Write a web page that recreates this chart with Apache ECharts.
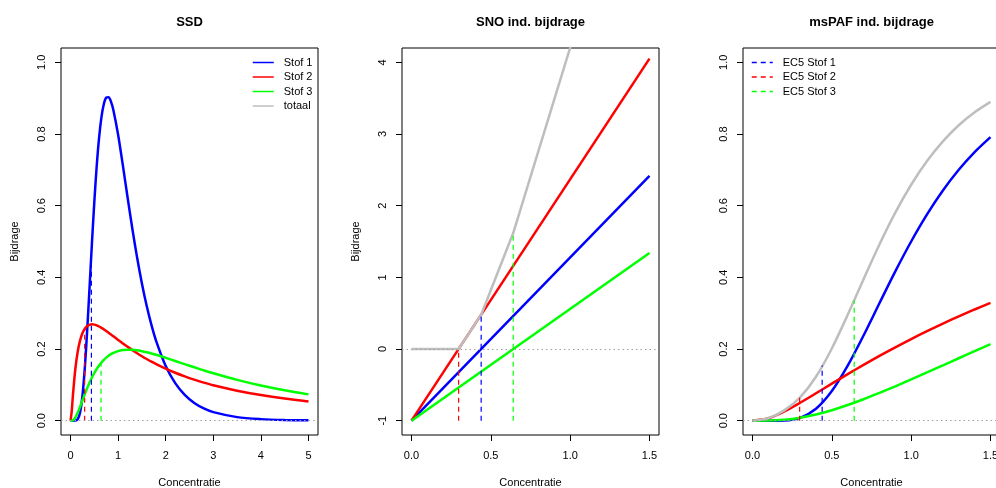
<!DOCTYPE html>
<html>
<head>
<meta charset="utf-8">
<script src="https://cdn.jsdelivr.net/npm/echarts@6/dist/echarts.min.js"></script>
<style>
  html, body { margin: 0; padding: 0; background: #fff; }
  #chart { width: 996px; height: 488px; }
</style>
</head>
<body>
<div id="chart"></div>
<script>
// SSD densities (panel 1)
const ssdX = [0, 0.025, 0.05, 0.1, 0.15, 0.2, 0.25, 0.3, 0.35, 0.4, 0.45, 0.5, 0.55, 0.6, 0.65, 0.7, 0.75, 0.8, 0.85, 0.9,
  1.0, 1.1, 1.2, 1.3, 1.4, 1.5, 1.6, 1.7, 1.8, 2.0, 2.2, 2.4, 2.6, 2.8, 3.0, 3.5, 4.0, 4.5, 5.0];
const ssdStof1 = [0, 0, 0, 0.0002, 0.004, 0.0224, 0.0684, 0.1465, 0.2515, 0.3721, 0.4953, 0.6104, 0.7099, 0.7892, 0.8469, 0.8837, 0.9016, 0.9028, 0.8904, 0.8671,
  0.7979, 0.7123, 0.6222, 0.5348, 0.4544, 0.3828, 0.3206, 0.2673, 0.2221, 0.1526, 0.1046, 0.0718, 0.0494, 0.0342, 0.0238, 0.0099, 0.0043, 0.0019, 0.0009];
const ssdStof2 = [0, 0.0261, 0.0698, 0.1428, 0.1917, 0.2235, 0.2439, 0.2566, 0.2640, 0.2677, 0.2688, 0.2680, 0.2659, 0.2628, 0.2590, 0.2547, 0.2502, 0.2454, 0.2404, 0.2354,
  0.2254, 0.2155, 0.2060, 0.1968, 0.1881, 0.1799, 0.1721, 0.1647, 0.1578, 0.1450, 0.1337, 0.1235, 0.1144, 0.1063, 0.0990, 0.0836, 0.0714, 0.0616, 0.0537];
const ssdStof3 = [0, 0, 0.0012, 0.0087, 0.0220, 0.0385, 0.0563, 0.0740, 0.0907, 0.1062, 0.1203, 0.1330, 0.1441, 0.1539, 0.1624, 0.1697, 0.1759, 0.1812, 0.1855, 0.1891,
  0.1942, 0.1970, 0.1981, 0.1977, 0.1963, 0.1940, 0.1910, 0.1876, 0.1838, 0.1754, 0.1666, 0.1577, 0.1489, 0.1404, 0.1323, 0.1138, 0.0980, 0.0846, 0.0734];

// EC5 per stof and the heights the dashed lines reach in each panel
const ec5 = [0.439, 0.297, 0.641];
const ssdAtEc5 = [0.468, 0.256, 0.160];
const snoTotAtEc5 = [0.478, 0, 1.618];
const pafTotAtEc5 = [0.154, 0.064, 0.336];

// SNO (panel 2)
const snoX = [0, 1.5];
const snoStof1 = [-1, 2.417];
const snoStof2 = [-1, 4.051];
const snoStof3 = [-1, 1.340];
const snoTotX = [0, 0.297, 0.439, 0.641, 1.5];
const snoTot = [0, 0, 0.478, 1.618, 7.807];

// msPAF (panel 3)
const pafX = [0, 0.1, 0.2, 0.3, 0.4, 0.5, 0.6, 0.7, 0.8, 0.9, 1.0, 1.1, 1.2, 1.3, 1.4, 1.5];
const pafStof1 = [0, 0, 0.0006, 0.0080, 0.0334, 0.0828, 0.1535, 0.2378, 0.3277, 0.4166, 0.5, 0.5756, 0.6423, 0.7001, 0.7495, 0.7913];
const pafStof2 = [0, 0.0069, 0.0258, 0.0500, 0.0764, 0.1032, 0.1298, 0.1557, 0.1807, 0.2047, 0.2278, 0.2498, 0.2709, 0.2910, 0.3103, 0.3286];
const pafStof3 = [0, 0.0002, 0.0025, 0.0081, 0.0172, 0.0292, 0.0436, 0.0598, 0.0774, 0.0959, 0.1151, 0.1347, 0.1544, 0.1742, 0.1939, 0.2135];
const pafTot = [0, 0.0071, 0.0288, 0.0653, 0.1226, 0.2015, 0.2954, 0.3949, 0.4918, 0.5805, 0.6583, 0.7245, 0.7795, 0.8244, 0.8607, 0.8898];

// ticks
const ssdXTicks = [0, 1, 2, 3, 4, 5];
const concTicks = [0, 0.5, 1.0, 1.5];
const fracTicks = [0, 0.2, 0.4, 0.6, 0.8, 1.0];
const snoYTicks = [-1, 0, 1, 2, 3, 4];

const stofNames = ['Stof 1', 'Stof 2', 'Stof 3'];
const ec5Names = ['EC5 Stof 1', 'EC5 Stof 2', 'EC5 Stof 3'];
const colors = ['#0000FF', '#FF0000', '#00FF00'];
const GRAY = '#BEBEBE';
const FONT = '"Liberation Sans", Arial, Helvetica, sans-serif';

function pairs(xs, ys) {
    return xs.map((x, i) => [x, ys[i]]);
}

function xAxisCfg(gridIndex, min, max, ticks, dec) {
    return {
        type: 'value', gridIndex: gridIndex, min: min, max: max,
        axisLine: { show: false, onZero: false },
        splitLine: { show: false },
        axisTick: { length: 6, customValues: ticks, lineStyle: { color: '#000' } },
        axisLabel: {
            customValues: ticks, margin: 15, color: '#000', fontSize: 11, fontFamily: FONT,
            formatter: v => v.toFixed(dec)
        },
        name: 'Concentratie', nameLocation: 'middle', nameGap: 42,
        nameTextStyle: { color: '#000', fontSize: 11, fontFamily: FONT }
    };
}

function yAxisCfg(gridIndex, min, max, ticks, dec, name) {
    return {
        type: 'value', gridIndex: gridIndex, min: min, max: max,
        axisLine: { show: false, onZero: false },
        splitLine: { show: false },
        axisTick: { length: 6, customValues: ticks, lineStyle: { color: '#000' } },
        axisLabel: {
            customValues: ticks, margin: 14, rotate: 90, color: '#000', fontSize: 11, fontFamily: FONT,
            formatter: v => v.toFixed(dec)
        },
        name: name, nameLocation: 'middle', nameGap: 41,
        nameTextStyle: { color: '#000', fontSize: 11, fontFamily: FONT }
    };
}

function curve(name, idx, data, color) {
    return {
        name: name, type: 'line', xAxisIndex: idx, yAxisIndex: idx,
        data: data, showSymbol: false, symbol: 'none', smooth: 0.3,
        lineStyle: { color: color, width: 2.5 }, itemStyle: { color: color },
        z: 2
    };
}

function dashed(name, idx, x, y0, y1, color) {
    return {
        name: name, type: 'line', xAxisIndex: idx, yAxisIndex: idx,
        data: [[x, y0], [x, y1]], showSymbol: false, symbol: 'none',
        lineStyle: { color: color, width: 1.2, type: [5, 4] }, itemStyle: { color: color },
        z: 4
    };
}

function zeroLine(idx) {
    return {
        type: 'line', xAxisIndex: idx, yAxisIndex: idx, data: [],
        markLine: {
            silent: true, symbol: 'none', label: { show: false },
            lineStyle: { color: '#A0A0A0', width: 1.2, type: [1.5, 3] },
            data: [{ yAxis: 0 }]
        },
        z: 1
    };
}

let chart = echarts.init(document.getElementById('chart'), null, { renderer: 'canvas' });

let series = [];
// panel 1
series.push(zeroLine(0));
series.push(curve('Stof 1', 0, pairs(ssdX, ssdStof1), colors[0]));
series.push(curve('Stof 2', 0, pairs(ssdX, ssdStof2), colors[1]));
series.push(curve('Stof 3', 0, pairs(ssdX, ssdStof3), colors[2]));
series.push(curve('totaal', 0, [], GRAY));
ec5.forEach((e, i) => series.push(dashed('ssd' + i, 0, e, 0, ssdAtEc5[i], colors[i])));
// panel 2
series.push(zeroLine(1));
series.push(curve('Stof 1', 1, pairs(snoX, snoStof1), colors[0]));
series.push(curve('Stof 2', 1, pairs(snoX, snoStof2), colors[1]));
series.push(curve('Stof 3', 1, pairs(snoX, snoStof3), colors[2]));
series.push(Object.assign(curve('totaal', 1, pairs(snoTotX, snoTot), GRAY), { smooth: false }));
ec5.forEach((e, i) => series.push(dashed('sno' + i, 1, e, -1, snoTotAtEc5[i], colors[i])));
// panel 3
series.push(zeroLine(2));
series.push(curve('Stof 1', 2, pairs(pafX, pafStof1), colors[0]));
series.push(curve('Stof 2', 2, pairs(pafX, pafStof2), colors[1]));
series.push(curve('Stof 3', 2, pairs(pafX, pafStof3), colors[2]));
series.push(curve('totaal', 2, pairs(pafX, pafTot), GRAY));
ec5.forEach((e, i) => series.push(dashed(ec5Names[i], 2, e, 0, pafTotAtEc5[i], colors[i])));

let titleStyle = { color: '#000', fontSize: 13, fontWeight: 'bold', fontFamily: FONT };
let legendBase = {
    orient: 'vertical', padding: 0, itemWidth: 21, itemHeight: 10, itemGap: 3.5,
    selectedMode: false,
    textStyle: { color: '#000', fontSize: 11, fontFamily: FONT, padding: [0, 0, 0, 5] },
    itemStyle: { opacity: 0, borderWidth: 0 },
    lineStyle: { width: 1.5, opacity: 1 }
};
let gridBase = { top: 48, width: 257, height: 387, show: true, borderColor: '#000', borderWidth: 1, outerBoundsMode: 'none' };

let option = {
    animation: false,
    backgroundColor: '#fff',
    title: [
        { text: 'SSD', left: 189.5, top: 16, textAlign: 'center', padding: 0, textStyle: titleStyle },
        { text: 'SNO ind. bijdrage', left: 530.5, top: 16, textAlign: 'center', padding: 0, textStyle: titleStyle },
        { text: 'msPAF ind. bijdrage', left: 871.5, top: 16, textAlign: 'center', padding: 0, textStyle: titleStyle }
    ],
    legend: [
        Object.assign({}, legendBase, { data: stofNames.concat(['totaal']), left: 252, top: 57 }),
        Object.assign({}, legendBase, { data: ec5Names, left: 751, top: 57 })
    ],
    grid: [
        Object.assign({ left: 61 }, gridBase),
        Object.assign({ left: 402 }, gridBase),
        Object.assign({ left: 743 }, gridBase)
    ],
    xAxis: [
        xAxisCfg(0, -0.2, 5.2, ssdXTicks, 0),
        xAxisCfg(1, -0.06, 1.56, concTicks, 1),
        xAxisCfg(2, -0.06, 1.56, concTicks, 1)
    ],
    yAxis: [
        yAxisCfg(0, -0.04, 1.04, fracTicks, 1, 'Bijdrage'),
        yAxisCfg(1, -1.2, 4.2, snoYTicks, 0, 'Bijdrage'),
        yAxisCfg(2, -0.04, 1.04, fracTicks, 1, '')
    ],
    series: series
};
chart.setOption(option);

window.addEventListener('resize', function () {
    chart.resize();
});
</script>
</body>
</html>
